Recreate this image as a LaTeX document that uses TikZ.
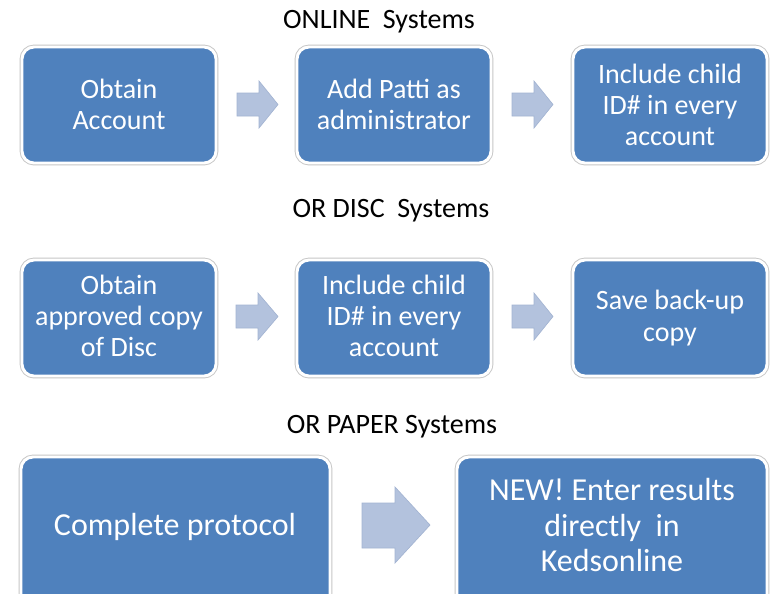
\documentclass[tikz,border=0pt]{standalone}
\usepackage{fontspec}
\setmainfont{Carlito}
\begin{document}
\begin{tikzpicture}[x=0.75pt,y=-0.75pt,
  stepbox/.style={rounded corners=9pt, fill=boxblue, draw=white, line width=2.2pt,
    preaction={draw=gray!45, line width=3.6pt}},
  boxtext/.style={text=white, align=center, font=\fontsize{21}{23.5}\selectfont},
  bigtext/.style={text=white, align=center, font=\fontsize{24}{26.5}\selectfont},
  title/.style={text=black, anchor=base, inner sep=0pt, font=\fontsize{21}{24}\selectfont},
  blockarrow/.style={fill=arrowblue, draw=arrowedge, line width=0.5pt}]
\definecolor{boxblue}{HTML}{4F81BD}
\definecolor{arrowblue}{HTML}{B3C2DD}
\definecolor{arrowedge}{HTML}{A3B4D2}
\useasboundingbox (0,0) rectangle (773,593);
\clip (0,0) rectangle (773,593);
\fill[white] (0,0) rectangle (773,593);

% titles
\node[title] (t1) at (379,28) {ONLINE\ \ Systems};
\node[title] (t2) at (391,217) {OR DISC\ \ Systems};
\node[title] (t3) at (392,433) {OR PAPER Systems};

% row 1
\draw[stepbox] (22,47) rectangle (216,163);
\draw[stepbox] (297,47) rectangle (491,163);
\draw[stepbox] (573,47) rectangle (767,163);
\node[boxtext] (a1) at (119,104.5) {Obtain\\Account};
\node[boxtext] (a2) at (394,104.5) {Add Patti as\\administrator};
\node[boxtext] (a3) at (670,105) {Include child\\ID\# in every\\account};
\draw[blockarrow] (237,93) -- (259,93) -- (259,81) -- (278,104.5) -- (259,128) -- (259,116) -- (237,116) -- cycle;
\draw[blockarrow] (512,93) -- (534,93) -- (534,81) -- (553,104.5) -- (534,128) -- (534,116) -- (512,116) -- cycle;

% row 2
\draw[stepbox] (22,260) rectangle (216,376);
\draw[stepbox] (297,260) rectangle (491,376);
\draw[stepbox] (573,260) rectangle (767,376);
\node[boxtext] (b1) at (119,316) {Obtain\\approved copy\\of Disc};
\node[boxtext] (b2) at (394,316) {Include child\\ID\# in every\\account};
\node[boxtext] (b3) at (670,318) {Save back-up\\copy};
\draw[blockarrow] (236,305) -- (258,305) -- (258,293) -- (278,316.5) -- (258,340) -- (258,328) -- (236,328) -- cycle;
\draw[blockarrow] (512,305) -- (534,305) -- (534,293) -- (553,316.5) -- (534,340) -- (534,328) -- (512,328) -- cycle;

% row 3
\draw[stepbox] (21,457) rectangle (330,640);
\draw[stepbox] (457,457) rectangle (767,640);
\node[bigtext] (c1) at (175,527) {Complete protocol};
\node[bigtext] (c2) at (612,525) {NEW! Enter results\\directly\ \ in\\Kedsonline};
\draw[blockarrow] (362,503) -- (395,503) -- (395,487) -- (430,525) -- (395,563) -- (395,548) -- (362,548) -- cycle;
\end{tikzpicture}
\end{document}
